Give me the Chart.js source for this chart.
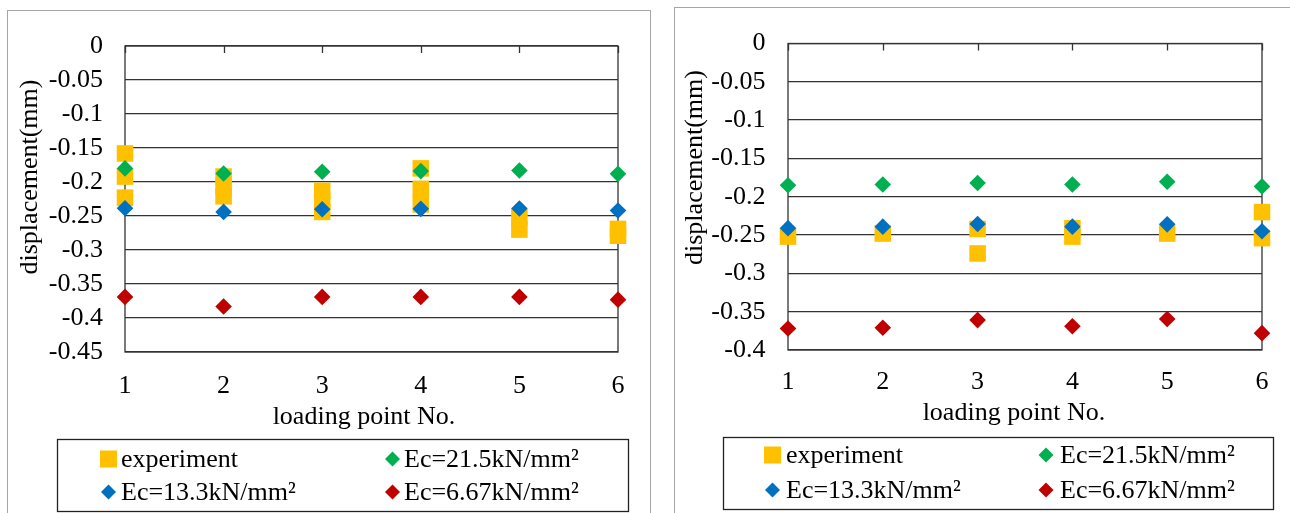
<!DOCTYPE html>
<html>
<head>
<meta charset="utf-8">
<script src="https://cdn.jsdelivr.net/npm/chart.js@4.4.0/dist/chart.umd.min.js"></script>
<style>
  html, body { margin: 0; padding: 0; background: #fff; width: 1290px; height: 513px; overflow: hidden; }
  .frame { position: absolute; border: 1px solid #a6a6a6; background: #fff; }
  .frame .box { position: relative; }
</style>
</head>
<body>
<div class="frame" style="left:7px;top:10px;width:642px;height:520px;">
  <div class="box" style="width:642px;height:502px;"><canvas id="chartA"></canvas></div>
</div>
<div class="frame" style="left:674px;top:7px;width:640px;height:520px;">
  <div class="box" style="width:615px;height:505px;"><canvas id="chartB"></canvas></div>
</div>
<script>
// data
const loadingPoints = [1, 2, 3, 4, 5, 6];
const seriesNames = ['experiment', 'Ec=21.5kN/mm²', 'Ec=13.3kN/mm²', 'Ec=6.67kN/mm²'];

// left chart
const experimentA = [
  [-0.158, -0.192, -0.223],
  [-0.192, -0.207, -0.221],
  [-0.213, -0.228, -0.244],
  [-0.180, -0.210, -0.233],
  [-0.252, -0.270],
  [-0.269, -0.279]
];
const ec215A = [-0.180, -0.1875, -0.185, -0.184, -0.183, -0.188];
const ec133A = [-0.2385, -0.244, -0.240, -0.2395, -0.239, -0.242];
const ec667A = [-0.369, -0.383, -0.369, -0.369, -0.369, -0.373];
const yTicksA = [0, -0.05, -0.1, -0.15, -0.2, -0.25, -0.3, -0.35, -0.4, -0.45];

// right chart
const experimentB = [
  [-0.252],
  [-0.248],
  [-0.242, -0.274],
  [-0.241, -0.252],
  [-0.248],
  [-0.220, -0.254]
];
const ec215B = [-0.185, -0.184, -0.182, -0.184, -0.1805, -0.1865];
const ec133B = [-0.241, -0.239, -0.2355, -0.239, -0.236, -0.245];
const ec667B = [-0.372, -0.371, -0.361, -0.369, -0.3595, -0.378];
const yTicksB = [0, -0.05, -0.1, -0.15, -0.2, -0.25, -0.3, -0.35, -0.4];

const colors = ['#FFC000', '#00B050', '#0070C0', '#C00000'];
const serif = "'Liberation Serif', 'Times New Roman', serif";

function toPoints(vals) {
  return vals.map((v, i) => ({ x: loadingPoints[i], y: v }));
}
function toGroupPoints(groups) {
  const pts = [];
  groups.forEach((g, i) => g.forEach(v => pts.push({ x: loadingPoints[i], y: v })));
  return pts;
}

// plot border, small ticks at the top, axis titles and the boxed legend
const decor = {
  id: 'decor',
  beforeDatasetsDraw(chart, args, o) {
    const { ctx, chartArea: a } = chart;
    ctx.save();
    ctx.strokeStyle = '#333';
    ctx.lineWidth = 1.3;
    ctx.strokeRect(a.left, a.top, a.right - a.left, a.bottom - a.top);
    loadingPoints.forEach(v => {
      const px = Math.round(chart.scales.x.getPixelForValue(v)) + 0.5;
      ctx.beginPath();
      ctx.moveTo(px, a.top);
      ctx.lineTo(px, a.top + 7);
      ctx.stroke();
    });
    ctx.restore();
  },
  afterDraw(chart, args, o) {
    const ctx = chart.ctx;
    ctx.save();
    ctx.font = '26px ' + serif;
    ctx.fillStyle = '#000';
    ctx.textAlign = 'center';
    ctx.textBaseline = 'middle';
    ctx.fillText('loading point No.', o.xTitleX, o.xTitleY);
    ctx.translate(o.titleX, o.titleY);
    ctx.rotate(-Math.PI / 2);
    ctx.fillText('displacement(mm)', 0, 0);
    ctx.restore();

    // legend
    const b = o.box;
    ctx.save();
    ctx.strokeStyle = '#222';
    ctx.lineWidth = 1.3;
    ctx.strokeRect(b.x, b.y, b.w, b.h);
    ctx.font = '26px ' + serif;
    ctx.textBaseline = 'middle';
    ctx.textAlign = 'left';
    chart.data.datasets.forEach((ds, i) => {
      const cx = o.markX[i % 2], tx = o.textX[i % 2], cy = o.rowY[Math.floor(i / 2)];
      ctx.fillStyle = ds.backgroundColor;
      if (ds.pointStyle === 'rect') {
        ctx.fillRect(cx - 8.5, cy - 8.5, 17, 17);
      } else {
        ctx.beginPath();
        ctx.moveTo(cx - 7.5, cy);
        ctx.lineTo(cx, cy - 7.5);
        ctx.lineTo(cx + 7.5, cy);
        ctx.lineTo(cx, cy + 7.5);
        ctx.closePath();
        ctx.fill();
      }
      ctx.fillStyle = '#000';
      ctx.fillText(ds.label, tx, cy + 1);
    });
    ctx.restore();
  }
};

function makeChart(id, exp, g, bl, r, yTicks, L) {
  const tickFont = { family: serif, size: 26, lineHeight: 1 };
  return new Chart(document.getElementById(id), {
    type: 'scatter',
    data: {
      datasets: [
        { label: seriesNames[0], data: toGroupPoints(exp), backgroundColor: colors[0], pointStyle: 'rect', pointRadius: 11.7, order: 1 },
        { label: seriesNames[1], data: toPoints(g), backgroundColor: colors[1], pointStyle: 'rectRot', pointRadius: 8.3, order: 0 },
        { label: seriesNames[2], data: toPoints(bl), backgroundColor: colors[2], pointStyle: 'rectRot', pointRadius: 8.3, order: 0 },
        { label: seriesNames[3], data: toPoints(r), backgroundColor: colors[3], pointStyle: 'rectRot', pointRadius: 8.3, order: 0 }
      ].map(d => Object.assign(d, { borderWidth: 0, pointBorderWidth: 0, pointHoverRadius: d.pointRadius, clip: false }))
    },
    options: {
      responsive: true,
      maintainAspectRatio: false,
      animation: false,
      events: [],
      layout: { padding: { left: 0, top: L.top, right: L.W - L.right, bottom: L.H - L.xBottom } },
      plugins: {
        legend: { display: false },
        tooltip: { enabled: false },
        decor: L.decor
      },
      scales: {
        x: {
          type: 'linear',
          min: loadingPoints[0],
          max: loadingPoints[loadingPoints.length - 1],
          afterBuildTicks: s => { s.ticks = loadingPoints.map(v => ({ value: v })); },
          afterFit: s => { s.height = L.xBottom - L.bottom; },
          grid: { display: false, drawTicks: false },
          border: { display: false },
          ticks: { font: tickFont, color: '#000', padding: L.xPad, maxRotation: 0, autoSkip: false }
        },
        y: {
          min: yTicks[yTicks.length - 1],
          max: yTicks[0],
          afterBuildTicks: s => { s.ticks = yTicks.map(v => ({ value: v })); },
          afterFit: s => { s.width = L.left; },
          grid: { color: '#333', lineWidth: 1.3, drawTicks: false },
          border: { display: false },
          ticks: { font: tickFont, color: '#000', padding: L.yPad, callback: v => String(v) }
        }
      }
    },
    plugins: [decor]
  });
}

makeChart('chartA', experimentA, ec215A, ec133A, ec667A, yTicksA, {
  W: 642, H: 502, left: 117, right: 610, top: 29, bottom: 341, xBottom: 418.5, xPad: 21, yPad: 22,
  decor: { titleX: 22, titleY: 166, xTitleX: 356, xTitleY: 406, box: { x: 49.5, y: 428.5, w: 571, h: 72 },
           markX: [100.5, 384.5], textX: [113, 396], rowY: [448, 481] }
});

makeChart('chartB', experimentB, ec215B, ec133B, ec667B, yTicksB, {
  W: 615, H: 505, left: 113, right: 587, top: 29, bottom: 342, xBottom: 417.5, xPad: 18.7, yPad: 22.5,
  decor: { titleX: 20.5, titleY: 159.5, xTitleX: 339, xTitleY: 405, box: { x: 48.5, y: 429.5, w: 550, h: 72 },
           markX: [97.5, 371], textX: [111, 385], rowY: [447, 482] }
});
</script>
</body>
</html>
